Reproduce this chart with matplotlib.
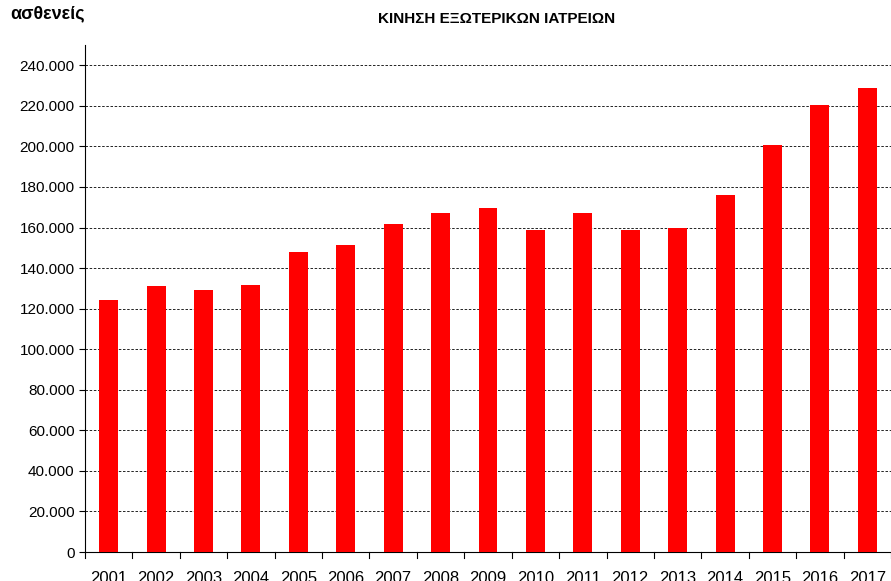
import matplotlib
matplotlib.use("Agg")
import matplotlib.pyplot as plt
from matplotlib.ticker import FuncFormatter

years = [str(y) for y in range(2001, 2018)]
patients = [124400, 131400, 129400, 131900, 148100, 151600, 161500, 167400, 169400,
            159000, 167400, 159000, 160000, 175800, 200500, 220200, 228600]

plt.rcParams["font.family"] = "Liberation Sans"

fig = plt.figure(figsize=(8.91, 5.81), dpi=100)
ax = fig.add_axes([85 / 891, 1 - 552 / 581, 806 / 891, 507 / 581])

ax.bar(range(len(years)), patients, width=0.4, color="#ff0000", zorder=3)
ax.set_xlim(-0.5, len(years) - 0.5)
ax.set_ylim(0, 250000)
ax.set_yticks(range(0, 240001, 20000))
ax.yaxis.set_major_formatter(FuncFormatter(lambda v, p: f"{int(v):,}".replace(",", ".")))
ax.grid(axis="y", color="black", linestyle=(0, (3, 2)), linewidth=0.6, zorder=0)
ax.set_xticks(range(len(years)))
ax.set_xticklabels(years, fontsize=12)
ax.tick_params(axis="y", labelsize=11, length=4)
ax.tick_params(axis="x", length=0, pad=14)
for i in range(len(years) + 1):
    ax.plot([i - 0.5, i - 0.5], [0, -3000], color="black", lw=0.8, clip_on=False)
for s in ["top", "right"]:
    ax.spines[s].set_visible(False)

fig.text(10 / 891, 1 - 14 / 581, "ασθενείς", fontsize=13, fontweight="bold", va="center")
fig.text(497 / 891, 1 - 19 / 581, "ΚΙΝΗΣΗ ΕΞΩΤΕΡΙΚΩΝ ΙΑΤΡΕΙΩΝ", fontsize=11,
         fontweight="bold", ha="center", va="center")

fig.savefig("out.png", dpi=100)
